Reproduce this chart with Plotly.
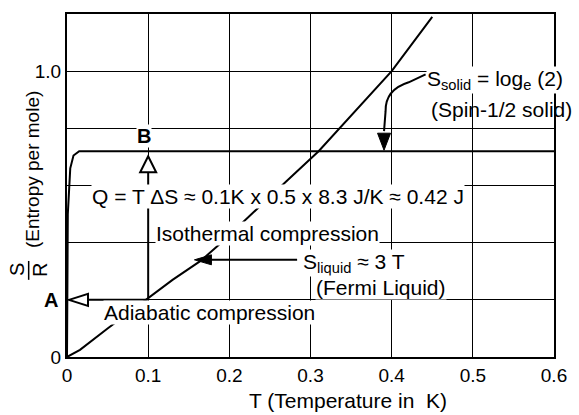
import plotly.graph_objects as go

# ---------------- data ----------------
x_tick_vals = [0, 0.1, 0.2, 0.3, 0.4, 0.5, 0.6]
x_tick_text = ["0", "0.1", "0.2", "0.3", "0.4", "0.5", "0.6"]
y_tick_vals = [0, 1.0]
y_tick_text = ["0", "1.0"]
y_grid_step = 0.2

# liquid entropy curve (S_liquid ~ 3T)
T_liquid = [0, 0.016, 0.05, 0.1, 0.13, 0.165, 0.19, 0.27, 0.31, 0.40, 0.45]
S_liquid = [0, 0.025, 0.10, 0.205, 0.27, 0.337, 0.40, 0.614, 0.72, 1.0, 1.19]

# solid entropy curve (plateau at log_e 2, as drawn)
T_solid = [0.0, 0.001, 0.004, 0.008, 0.015, 0.6]
S_solid = [0.0, 0.50, 0.66, 0.705, 0.72, 0.72]

# process points
T_iso = 0.1      # isothermal compression temperature
S_A = 0.2        # entropy at point A
S_plateau = 0.72 # drawn plateau level

FONT = "Liberation Sans, Arial, Helvetica, sans-serif"
BLACK = "#000000"

fig = go.Figure()
fig.add_trace(go.Scatter(x=T_liquid, y=S_liquid, mode="lines",
                         line=dict(color=BLACK, width=2), hoverinfo="skip", showlegend=False))
fig.add_trace(go.Scatter(x=T_solid, y=S_solid, mode="lines",
                         line=dict(color=BLACK, width=2), hoverinfo="skip", showlegend=False))

shapes = []
# isothermal vertical arrow line A -> B
shapes.append(dict(type="line", xref="x", yref="y", x0=T_iso, x1=T_iso, y0=S_A, y1=0.646,
                   line=dict(color=BLACK, width=2)))
# hollow up triangle below B
shapes.append(dict(type="path", xref="x", yref="y", xsizemode="pixel", ysizemode="pixel",
                   xanchor=T_iso, yanchor=S_plateau,
                   path="M 0,-5 L -8,-21 L 8,-21 Z", fillcolor="white",
                   line=dict(color=BLACK, width=2)))
# adiabatic horizontal arrow line
shapes.append(dict(type="line", xref="x", yref="y", x0=T_iso, x1=0.025, y0=S_A, y1=S_A,
                   line=dict(color=BLACK, width=2)))
shapes.append(dict(type="path", xref="x", yref="y", xsizemode="pixel", ysizemode="pixel",
                   xanchor=0, yanchor=S_A,
                   path="M 2,0 L 21,6 L 21,-6 Z", fillcolor="white",
                   line=dict(color=BLACK, width=2)))
# S_liquid arrow
shapes.append(dict(type="line", xref="x", yref="y", x0=0.2835, x1=0.17, y0=0.34, y1=0.34,
                   line=dict(color=BLACK, width=2)))
shapes.append(dict(type="path", xref="x", yref="y", xsizemode="pixel", ysizemode="pixel",
                   xanchor=0.157, yanchor=0.34,
                   path="M 0,0 L 17,5 L 17,-5 Z", fillcolor=BLACK,
                   line=dict(color=BLACK, width=1)))
# S_solid curved arrow
shapes.append(dict(type="path", xref="x", yref="y",
                   path="M 0.4418,0.989 L 0.421,0.961 Q 0.392,0.935 0.3925,0.86 L 0.3906,0.79",
                   line=dict(color=BLACK, width=2)))
shapes.append(dict(type="path", xref="x", yref="y", xsizemode="pixel", ysizemode="pixel",
                   xanchor=0.3906, yanchor=S_plateau,
                   path="M 0,1 L -6.5,18 L 6.5,18 Z", fillcolor=BLACK,
                   line=dict(color=BLACK, width=1)))
# S/R fraction bar
shapes.append(dict(type="line", xref="paper", yref="paper", x0=-0.0787, x1=-0.0787,
                   y0=0.225, y1=0.28, line=dict(color=BLACK, width=1.5)))

ann = []
def A(text, x, y, xanchor="left", yanchor="middle", size=21, bg="white", **kw):
    d = dict(text=text, x=x, y=y, xref="x", yref="y", showarrow=False,
             xanchor=xanchor, yanchor=yanchor, font=dict(family=FONT, size=size, color=BLACK),
             borderpad=0)
    if bg:
        d["bgcolor"] = bg
    d.update(kw)
    ann.append(d)

A("Q = T \u0394S \u2248 0.1K x 0.5 x 8.3 J/K \u2248 0.42 J", 0.2598, 0.561, xanchor="center")
A("Isothermal compression", 0.109, 0.432)
A("S<sub>liquid</sub> \u2248 3 T", 0.2896, 0.33)
A("(Fermi Liquid)", 0.3055, 0.242)
A("Adiabatic compression", 0.0438, 0.154)
A("S<sub>solid</sub> = log<sub>e</sub> (2)", 0.4418, 0.97)
A("(Spin-1/2 solid)", 0.4478, 0.867, bg=None)
A("<b>B</b>", 0.0949, 0.772, xanchor="center", size=20)

# A label, left of axis
ann.append(dict(text="<b>A</b>", x=0, y=S_A, xref="paper", yref="y", xanchor="right",
                yanchor="middle", xshift=-7, showarrow=False,
                font=dict(family=FONT, size=20, color=BLACK)))
# x title
ann.append(dict(text="T (Temperature in  K)", x=0.578, y=0, xref="paper", yref="paper",
                xanchor="center", yanchor="middle", yshift=-43, showarrow=False,
                font=dict(family=FONT, size=21, color=BLACK)))
# y title
ann.append(dict(text="(Entropy per mole)", x=0, y=0.545, xref="paper", yref="paper",
                xanchor="center", yanchor="middle", xshift=-35, textangle=-90, showarrow=False,
                font=dict(family=FONT, size=19, color=BLACK)))
ann.append(dict(text="S", x=0, y=0.254, xref="paper", yref="paper",
                xanchor="center", yanchor="middle", xshift=-50, textangle=-90, showarrow=False,
                font=dict(family=FONT, size=20, color=BLACK)))
ann.append(dict(text="R", x=0, y=0.254, xref="paper", yref="paper",
                xanchor="center", yanchor="middle", xshift=-27, textangle=-90, showarrow=False,
                font=dict(family=FONT, size=20, color=BLACK)))

axis_common = dict(showgrid=True, gridcolor=BLACK, gridwidth=1.3, showline=True,
                   linecolor=BLACK, linewidth=2, mirror=True, zeroline=False, ticks="",
                   tickfont=dict(family=FONT, size=19, color=BLACK))

fig.update_layout(
    width=579, height=415,
    margin=dict(l=67, r=19, t=14, b=58),
    paper_bgcolor="white", plot_bgcolor="white",
    xaxis=dict(range=[0, 0.6], tickvals=x_tick_vals, ticktext=x_tick_text, **axis_common),
    yaxis=dict(range=[0, 1.2], tickvals=y_tick_vals, ticktext=y_tick_text,
               minor=dict(tick0=0, dtick=y_grid_step, showgrid=True, gridcolor=BLACK,
                          gridwidth=1.3, ticks=""),
               **axis_common),
    shapes=shapes, annotations=ann, showlegend=False,
    font=dict(family=FONT, color=BLACK),
)

# remove the page's default body margin so the figure sits at the window's corner
fig.write_html("out.html", config={"displayModeBar": False},
               post_script="document.body.style.margin='0';document.body.style.overflow='hidden';")
